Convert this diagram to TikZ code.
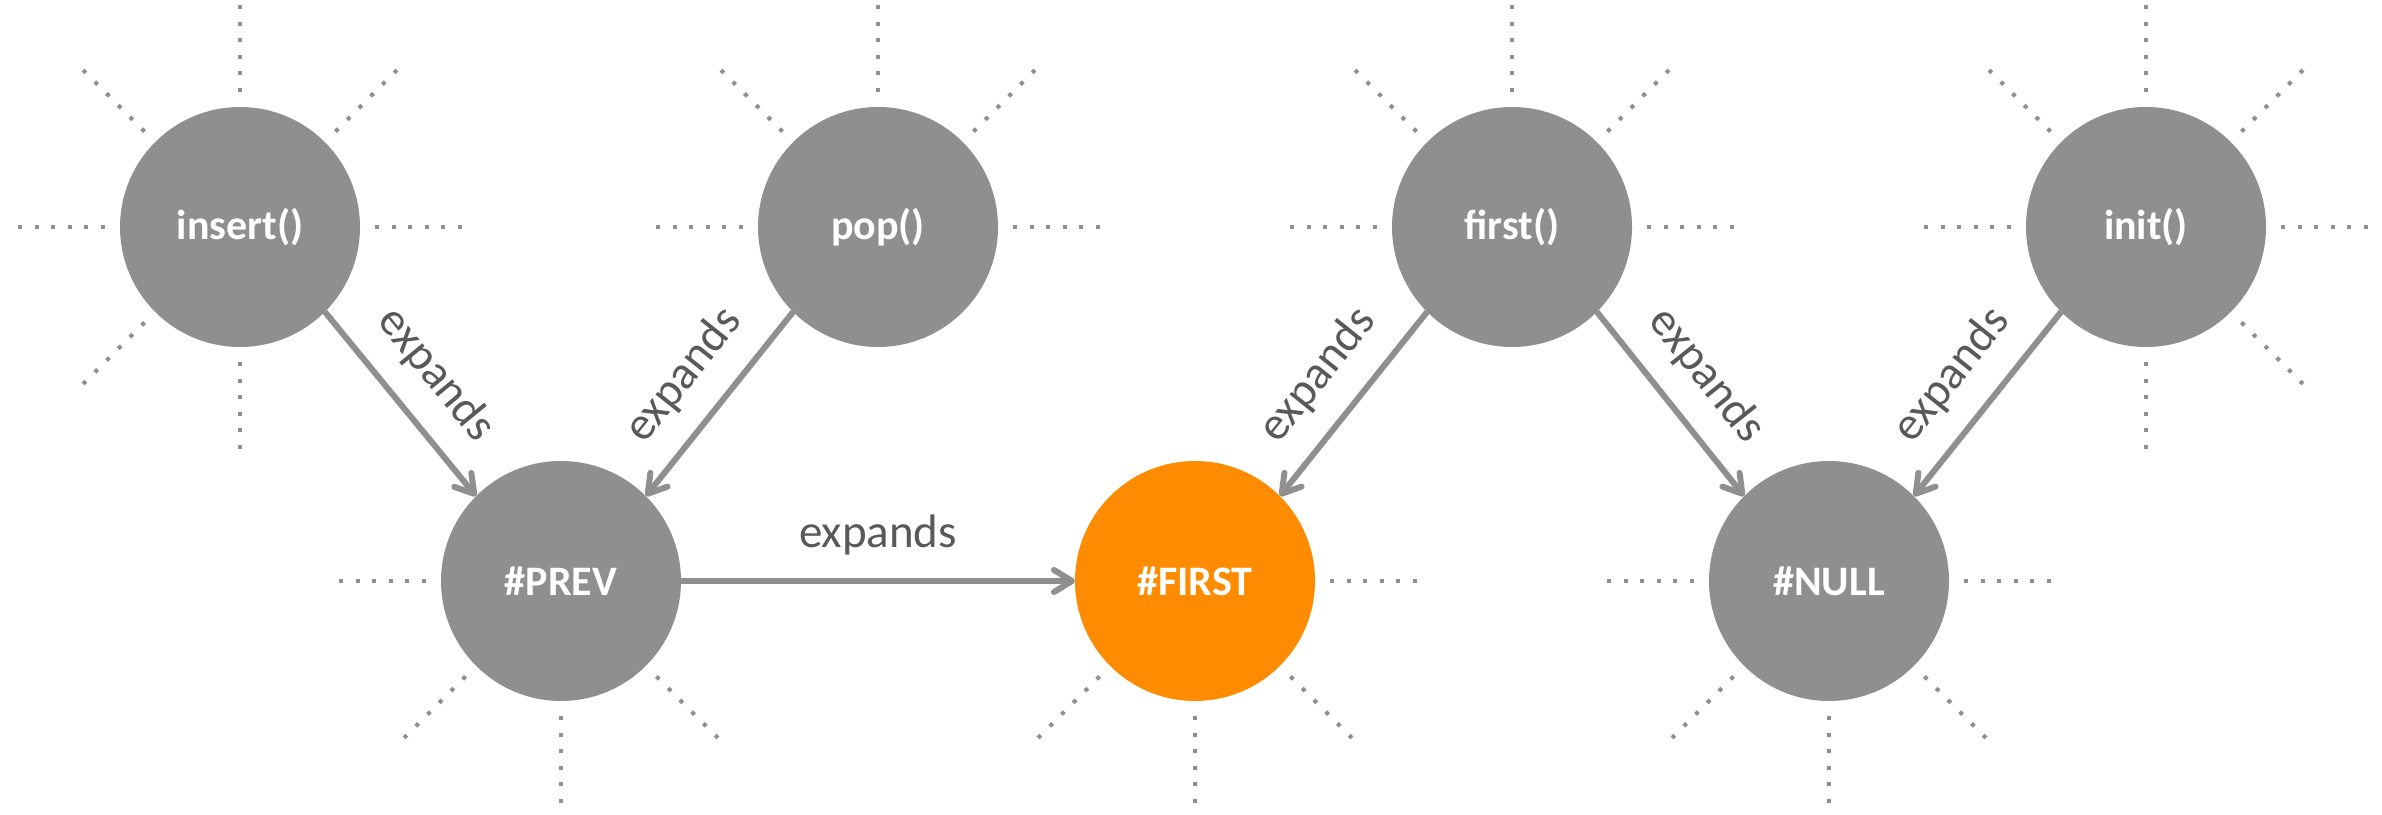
\documentclass[tikz,border=0pt]{standalone}
\usepackage{fontspec}
\setmainfont{Carlito}
\usetikzlibrary{arrows.meta}
\definecolor{nodegray}{HTML}{8F8F8F}
\definecolor{nodeorange}{HTML}{FF8C00}
\definecolor{labelgray}{HTML}{595959}
\newcommand{\myrays}[2]{\foreach \a in {#2}{\draw[ray] (#1.center) ++(\a:67.5pt) -- ++(\a:43.5pt);}}
\begin{document}
\begin{tikzpicture}[x=0.5pt,y=0.5pt,
  fnode/.style={circle, fill=nodegray, minimum size=120pt, inner sep=0pt, outer sep=0pt, text=white, font=\fontsize{21}{25}\selectfont\bfseries},
  hotnode/.style={fnode, fill=nodeorange},
  ray/.style={draw=nodegray, line width=2pt, dash pattern=on 2pt off 6.3pt},
  link/.style={draw=nodegray, line width=3pt, -{Straight Barb[length=9pt,width=11pt,round]}},
  lbl/.style={midway, sloped, above=8pt, text=labelgray, font=\fontsize{23.5}{28}\selectfont},
]
\path[use as bounding box, fill=white] (0,0) rectangle (2382,814);

\node[fnode] (ninsert) at (240,587) {insert()};
\node[fnode] (npop) at (878,587) {pop()};
\node[fnode] (nfirst) at (1512,587) {first()};
\node[fnode] (ninit) at (2146,587) {init()};
\node[fnode] (nprev) at (561,233) {\#PREV};
\node[hotnode] (nfirstb) at (1195,233) {\#FIRST};
\node[fnode] (nnull) at (1829,233) {\#NULL};

\myrays{ninsert}{90,135,45,180,0,225,270}
\myrays{npop}{90,135,45,180,0}
\myrays{nfirst}{90,135,45,180,0}
\myrays{ninit}{90,135,45,180,0,-45,270}
\myrays{nprev}{180,225,270,-45}
\myrays{nfirstb}{0,225,270,-45}
\myrays{nnull}{180,0,225,270,-45}

\draw[link] (ninsert.-45) -- node[lbl]{expands} (nprev.135);
\draw[link] (npop.225) -- node[lbl]{expands} (nprev.45);
\draw[link] (nprev.east) -- node[lbl]{expands} (nfirstb.west);
\draw[link] (nfirst.225) -- node[lbl]{expands} (nfirstb.45);
\draw[link] (nfirst.-45) -- node[lbl]{expands} (nnull.135);
\draw[link] (ninit.225) -- node[lbl]{expands} (nnull.45);
\end{tikzpicture}
\end{document}
